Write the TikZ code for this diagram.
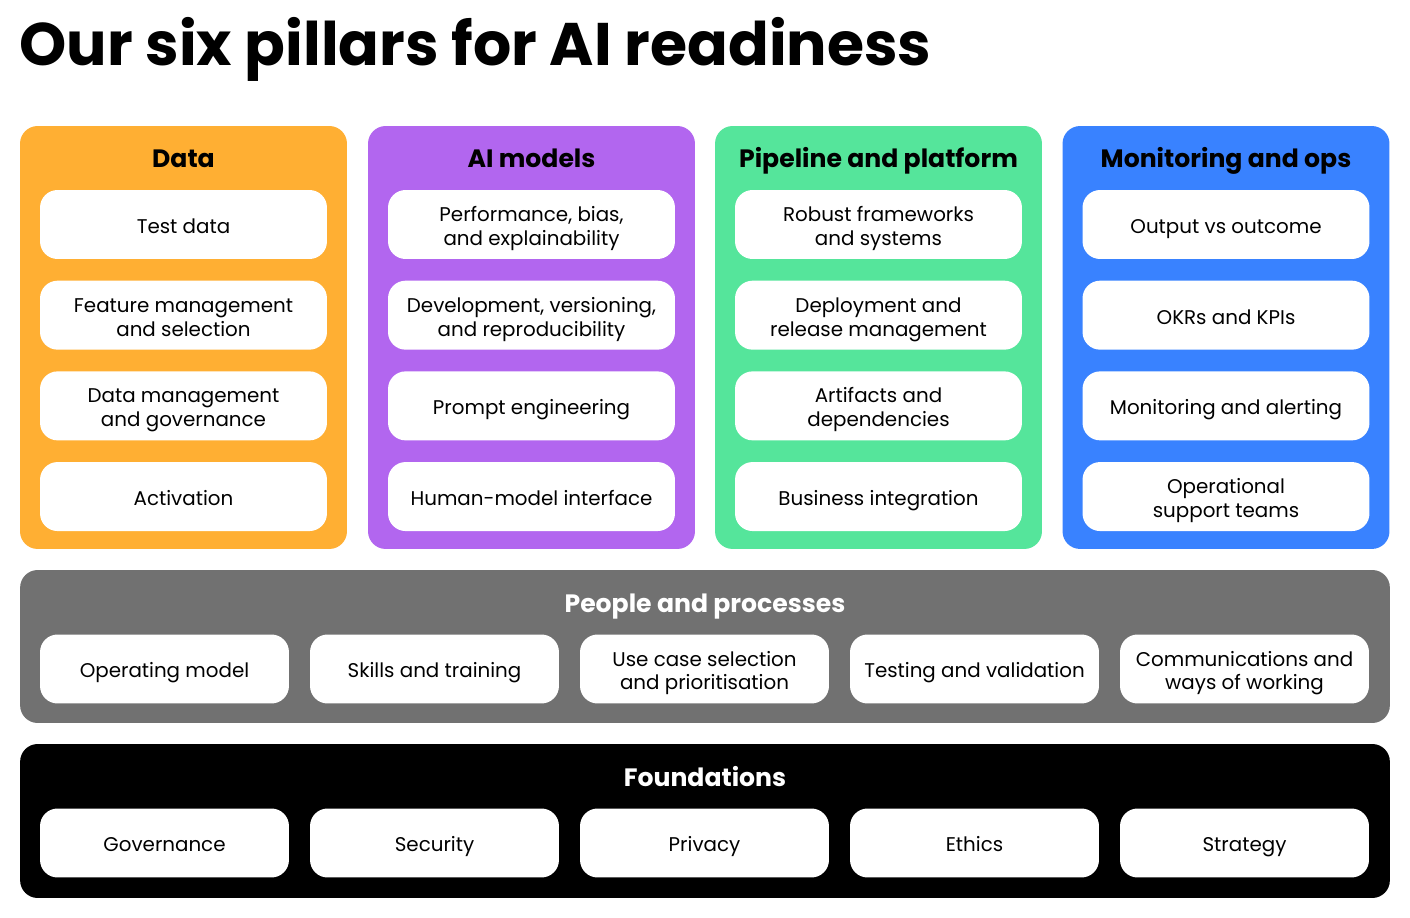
\documentclass[tikz,border=0pt]{standalone}
\usepackage{fontspec}
\setmainfont{Poppins}
\usepackage{tikz}
\usetikzlibrary{positioning}

\definecolor{dataorange}{HTML}{FFAF33}
\definecolor{modelpurple}{HTML}{B266EF}
\definecolor{pipegreen}{HTML}{55E59B}
\definecolor{monblue}{HTML}{3982FF}
\definecolor{peoplegray}{HTML}{717171}

\tikzset{
  pillar/.style={rectangle, rounded corners=10pt, minimum width=6.54cm, minimum height=8.46cm, inner sep=0pt},
  band/.style={rectangle, rounded corners=10pt, minimum width=27.4cm, inner sep=0pt},
  item/.style={rectangle, rounded corners=10pt, fill=white, minimum width=5.74cm, minimum height=1.38cm, align=center, inner sep=0pt, text height=13pt, text depth=2.8pt, font=\fontsize{11.3pt}{13.6pt}\selectfont},
  twoline/.style={text height=26.6pt},
  baritem/.style={item, minimum width=4.98cm},
  heading/.style={anchor=base, inner sep=0pt, font=\bfseries\fontsize{14.3pt}{16pt}\selectfont},
  gap/.style={below=0.42cm of #1}
}

\begin{document}
\begin{tikzpicture}[x=0.02cm, y=-0.02cm]
    \useasboundingbox[fill=white] (0,0) rectangle (1410,918);

    % Title
    \node[anchor=base west, inner sep=0pt, font=\bfseries\fontsize{34.2pt}{38pt}\selectfont] (title) at (19,66) {Our six pillars for AI readiness};

    % Pillars
    \node[pillar, fill=dataorange] (data) at (183.5,337.5) {};
    \node[pillar, fill=modelpurple] (models) at (531.5,337.5) {};
    \node[pillar, fill=pipegreen] (pipeline) at (878.5,337.5) {};
    \node[pillar, fill=monblue] (monitor) at (1226,337.5) {};

    \node[heading] (dataT) at (183.5,168) {Data};
    \node[heading] (modelsT) at (531.5,168) {AI models};
    \node[heading] (pipelineT) at (878.5,168) {Pipeline and platform};
    \node[heading] (monitorT) at (1226,168) {Monitoring and ops};

    % Data column
    \node[item] (data1) at (183.5,224.5) {Test data};
    \node[item, twoline, gap=data1] (data2) {Feature management\\and selection};
    \node[item, twoline, gap=data2] (data3) {Data management\\and governance};
    \node[item, gap=data3] (data4) {Activation};

    % AI models column
    \node[item, twoline] (models1) at (531.5,224.5) {Performance, bias,\\and explainability};
    \node[item, twoline, gap=models1] (models2) {Development, versioning,\\and reproducibility};
    \node[item, gap=models2] (models3) {Prompt engineering};
    \node[item, gap=models3] (models4) {Human-model interface};

    % Pipeline column
    \node[item, twoline] (pipeline1) at (878.5,224.5) {Robust frameworks\\and systems};
    \node[item, twoline, gap=pipeline1] (pipeline2) {Deployment and\\release management};
    \node[item, twoline, gap=pipeline2] (pipeline3) {Artifacts and\\dependencies};
    \node[item, gap=pipeline3] (pipeline4) {Business integration};

    % Monitoring column
    \node[item] (monitor1) at (1226,224.5) {Output vs outcome};
    \node[item, gap=monitor1] (monitor2) {OKRs and KPIs};
    \node[item, gap=monitor2] (monitor3) {Monitoring and alerting};
    \node[item, twoline, gap=monitor3] (monitor4) {Operational\\support teams};

    % People and processes
    \node[band, fill=peoplegray, minimum height=3.06cm] (people) at (705,646.5) {};
    \node[heading, text=white] (peopleT) at (705,613) {People and processes};
    \node[baritem] (people1) at (164.5,669) {Operating model};
    \node[baritem] (people2) at (434.5,669) {Skills and training};
    \node[baritem, twoline] (people3) at (704.5,669) {Use case selection\\and prioritisation};
    \node[baritem] (people4) at (974.5,669) {Testing and validation};
    \node[baritem, twoline] (people5) at (1244.5,669) {Communications and\\ways of working};

    % Foundations
    \node[band, fill=black, minimum height=3.08cm] (found) at (705,821) {};
    \node[heading, text=white] (foundT) at (705,786) {Foundations};
    \node[baritem] (found1) at (164.5,843) {Governance};
    \node[baritem] (found2) at (434.5,843) {Security};
    \node[baritem] (found3) at (704.5,843) {Privacy};
    \node[baritem] (found4) at (974.5,843) {Ethics};
    \node[baritem] (found5) at (1244.5,843) {Strategy};

\end{tikzpicture}
\end{document}
